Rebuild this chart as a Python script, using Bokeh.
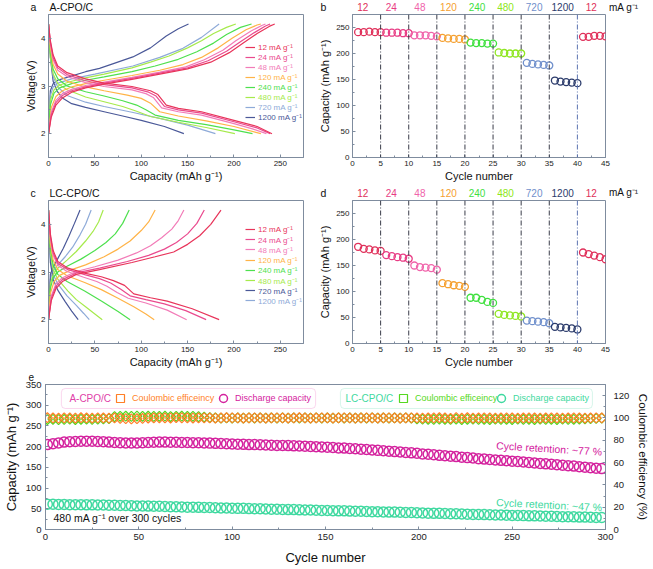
from bokeh.plotting import figure
from bokeh.models import (Range1d, LinearAxis, SingleIntervalTicker, Label, Span, Title,
                          Legend, LegendItem, BoxAnnotation, ColumnDataSource)
from bokeh.layouts import column, row
from bokeh.embed import file_html
from bokeh.resources import INLINE

FONT = "Liberation Sans"
FRAME = "#7f8c9e"

# ---------------- Panel a : A-CPO/C charge/discharge profiles ----------------
a12d_c = [0, 2, 5, 10, 20, 40, 60, 90, 110, 118, 127, 140, 165, 200, 225, 241]
a12d_v = [4.3, 3.95, 3.65, 3.42, 3.28, 3.15, 3.06, 2.99, 2.9, 2.82, 2.6, 2.53, 2.46, 2.28, 2.15, 2.0]
a24d_c = [0, 2, 5, 10, 20, 40, 60, 90, 108, 116, 125, 140, 165, 200, 225, 239]
a24d_v = [4.3, 3.92, 3.6, 3.38, 3.24, 3.11, 3.03, 2.96, 2.87, 2.79, 2.57, 2.5, 2.43, 2.25, 2.12, 2.0]
a48d_c = [0, 2, 5, 10, 20, 40, 60, 90, 105, 113, 122, 140, 165, 200, 220, 235]
a48d_v = [4.3, 3.88, 3.55, 3.33, 3.2, 3.07, 2.99, 2.92, 2.84, 2.76, 2.54, 2.46, 2.39, 2.21, 2.1, 2.0]
a120d_c = [0, 2, 5, 10, 20, 40, 60, 85, 100, 110, 120, 140, 170, 200, 229]
a120d_v = [4.3, 3.8, 3.45, 3.25, 3.1, 2.98, 2.9, 2.81, 2.74, 2.64, 2.46, 2.37, 2.27, 2.15, 2.0]
a240d_c = [0, 2, 5, 10, 20, 40, 60, 80, 95, 105, 115, 140, 170, 200, 220]
a240d_v = [4.3, 3.7, 3.35, 3.15, 3.0, 2.88, 2.79, 2.69, 2.6, 2.5, 2.39, 2.28, 2.19, 2.08, 2.0]
a480d_c = [0, 2, 5, 10, 20, 40, 60, 80, 95, 110, 140, 170, 201]
a480d_v = [4.3, 3.6, 3.25, 3.05, 2.92, 2.77, 2.67, 2.57, 2.47, 2.36, 2.24, 2.13, 2.0]
a720d_c = [0, 2, 5, 10, 20, 40, 60, 90, 120, 150, 180]
a720d_v = [4.3, 3.7, 3.2, 2.98, 2.8, 2.66, 2.57, 2.45, 2.32, 2.18, 2.0]
a1200d_c = [0, 2, 5, 9, 15, 25, 40, 60, 80, 100, 125, 146]
a1200d_v = [4.3, 3.6, 3.1, 2.9, 2.75, 2.63, 2.55, 2.46, 2.37, 2.28, 2.15, 2.0]

a12c_c = [0, 3, 8, 15, 25, 40, 60, 90, 120, 150, 175, 195, 210, 225, 238, 244]
a12c_v = [2.0, 2.35, 2.6, 2.75, 2.87, 2.96, 3.04, 3.14, 3.25, 3.36, 3.5, 3.7, 3.9, 4.1, 4.25, 4.3]
a24c_c = [0, 3, 8, 15, 25, 40, 60, 90, 120, 150, 172, 192, 207, 222, 234, 239]
a24c_v = [2.0, 2.4, 2.65, 2.8, 2.9, 2.98, 3.06, 3.16, 3.27, 3.38, 3.53, 3.73, 3.93, 4.12, 4.26, 4.3]
a48c_c = [0, 3, 8, 15, 25, 40, 60, 90, 120, 148, 168, 188, 202, 218, 230, 234]
a48c_v = [2.0, 2.45, 2.7, 2.84, 2.93, 3.01, 3.08, 3.18, 3.29, 3.4, 3.55, 3.75, 3.95, 4.15, 4.27, 4.3]
a120c_c = [0, 3, 8, 15, 25, 40, 60, 90, 120, 145, 165, 183, 198, 213, 225, 229]
a120c_v = [2.0, 2.55, 2.78, 2.9, 2.98, 3.05, 3.12, 3.22, 3.33, 3.45, 3.6, 3.8, 4.0, 4.18, 4.28, 4.3]
a240c_c = [0, 2, 6, 12, 25, 40, 60, 90, 115, 140, 160, 178, 192, 207, 219]
a240c_v = [2.0, 2.6, 2.85, 2.96, 3.05, 3.12, 3.19, 3.3, 3.42, 3.56, 3.72, 3.9, 4.08, 4.23, 4.3]
a480c_c = [0, 2, 6, 12, 25, 40, 60, 90, 110, 130, 150, 165, 178, 192, 202]
a480c_v = [2.0, 2.7, 2.92, 3.02, 3.1, 3.17, 3.25, 3.38, 3.5, 3.63, 3.8, 3.95, 4.1, 4.23, 4.3]
a720c_c = [0, 2, 5, 10, 25, 50, 91, 120, 145, 165, 184]
a720c_v = [2.0, 2.8, 2.98, 3.06, 3.15, 3.25, 3.42, 3.6, 3.79, 4.02, 4.3]
a1200c_c = [0, 2, 5, 10, 20, 40, 55, 70, 91, 110, 127, 140, 151]
a1200c_v = [2.0, 2.9, 3.05, 3.12, 3.18, 3.3, 3.37, 3.47, 3.61, 3.8, 4.05, 4.2, 4.3]

# ---------------- Panel c : LC-CPO/C charge/discharge profiles ----------------
c12d_c = [0, 2, 5, 10, 21, 40, 57, 70, 82, 92, 110, 128, 155, 184]
c12d_v = [4.3, 3.8, 3.45, 3.22, 3.08, 2.97, 2.9, 2.82, 2.72, 2.54, 2.46, 2.39, 2.23, 2.0]
c24d_c = [0, 2, 5, 10, 21, 40, 55, 67, 78, 88, 105, 125, 148, 170]
c24d_v = [4.3, 3.75, 3.4, 3.18, 3.05, 2.94, 2.86, 2.77, 2.64, 2.5, 2.42, 2.33, 2.19, 2.0]
c48d_c = [0, 2, 5, 10, 20, 38, 52, 63, 74, 86, 105, 128, 149]
c48d_v = [4.3, 3.7, 3.35, 3.14, 3.01, 2.89, 2.8, 2.7, 2.57, 2.45, 2.35, 2.2, 2.0]
c120d_c = [0, 2, 5, 10, 20, 39, 57, 75, 92, 105, 114]
c120d_v = [4.3, 3.6, 3.25, 3.05, 2.92, 2.78, 2.63, 2.45, 2.27, 2.12, 2.0]
c240d_c = [0, 2, 5, 10, 20, 39, 57, 75, 88]
c240d_v = [4.3, 3.5, 3.15, 2.95, 2.8, 2.6, 2.39, 2.17, 2.0]
c480d_c = [0, 2, 5, 10, 21, 30, 40, 50, 58]
c480d_v = [4.3, 3.4, 3.05, 2.85, 2.6, 2.42, 2.27, 2.12, 2.0]
c720d_c = [0, 2, 5, 10, 18, 25, 32]
c720d_v = [4.3, 3.2, 2.85, 2.62, 2.38, 2.18, 2.0]
c1200d_c = [0, 2, 5, 10, 20, 30, 38, 44]
c1200d_v = [4.3, 3.3, 2.95, 2.75, 2.5, 2.3, 2.13, 2.0]

c12c_c = [0, 3, 8, 15, 30, 55, 90, 115, 135, 150, 163, 175, 186]
c12c_v = [2.0, 2.4, 2.65, 2.8, 2.95, 3.05, 3.2, 3.32, 3.42, 3.58, 3.76, 4.0, 4.3]
c24c_c = [0, 3, 8, 15, 30, 55, 85, 108, 125, 138, 150, 160, 168]
c24c_v = [2.0, 2.45, 2.7, 2.84, 2.98, 3.08, 3.22, 3.35, 3.48, 3.62, 3.8, 4.02, 4.3]
c48c_c = [0, 3, 8, 15, 30, 50, 75, 95, 110, 122, 133, 140, 146]
c48c_v = [2.0, 2.5, 2.75, 2.88, 3.01, 3.11, 3.25, 3.4, 3.55, 3.72, 3.9, 4.08, 4.3]
c120c_c = [0, 2, 6, 12, 25, 40, 60, 75, 88, 100, 108, 115]
c120c_v = [2.0, 2.55, 2.8, 2.93, 3.05, 3.15, 3.32, 3.48, 3.65, 3.87, 4.05, 4.3]
c240c_c = [0, 2, 5, 10, 20, 35, 50, 62, 72, 80, 87]
c240c_v = [2.0, 2.65, 2.88, 3.0, 3.12, 3.27, 3.45, 3.62, 3.8, 4.02, 4.3]
c480c_c = [0, 2, 5, 10, 20, 30, 40, 48, 54, 59]
c480c_v = [2.0, 2.75, 2.95, 3.08, 3.25, 3.43, 3.65, 3.85, 4.05, 4.3]
c720c_c = [0, 2, 5, 10, 16, 22, 28, 34]
c720c_v = [2.0, 2.95, 3.1, 3.28, 3.5, 3.75, 4.02, 4.3]
c1200c_c = [0, 2, 5, 10, 18, 26, 34, 40, 46]
c1200c_v = [2.0, 2.85, 3.02, 3.15, 3.32, 3.52, 3.78, 4.0, 4.3]

RATES = ["12", "24", "48", "120", "240", "480", "720", "1200"]
A_COLORS = ["#e8345a", "#ea4a8e", "#f27cb8", "#ffb347", "#4ee04e", "#a6ea4c", "#8eaad8", "#4a5898"]
C_COLORS = ["#e8345a", "#ea4a8e", "#f27cb8", "#ffb347", "#4ee04e", "#a6ea4c", "#4a5898", "#8eaad8"]

# ---------------- Panels b, d : rate capability ----------------
RATE_CYCLES = list(range(1, 46))
B_CAP = [241, 241, 242, 241, 241, 240, 240, 240, 239, 239,
         235, 235, 235, 234, 233, 230, 229, 228, 228, 227,
         221, 220, 220, 219, 219, 202, 201, 200, 200, 200,
         182, 180, 179, 178, 177, 148, 146, 145, 144, 143,
         232, 232, 234, 234, 233]
D_CAP = [186, 182, 181, 179, 178, 170, 168, 166, 165, 163,
         150, 147, 146, 145, 142, 116, 114, 112, 111, 109,
         88, 88, 84, 80, 78, 57, 55, 54, 53, 52,
         44, 43, 42, 41, 39, 32, 31, 30, 29, 27,
         175, 172, 169, 166, 162]
STEP_LABELS = ["12", "24", "48", "120", "240", "480", "720", "1200", "12"]
STEP_COLORS = ["#e0305a", "#e83c84", "#f064aa", "#f5a030", "#3fe03f", "#8ee620", "#7090cc", "#2c3c6c", "#e0305a"]
STEP_BOUNDS = [5, 10, 15, 20, 25, 30, 35, 40]

# ---------------- Panel e : long cycling at 480 mA/g ----------------
E_CYCLES = list(range(1, 301, 3))
A_DIS = [205, 207, 209, 211, 212, 212.5, 213, 213, 213, 212.5,
         212, 211, 210, 209.5, 209, 209, 209, 209.5, 210, 210.5,
         211, 211, 210.5, 210.5, 210, 210, 209.5, 209.5, 209, 208.5,
         208, 207.5, 207, 206.5, 206, 205.5, 205, 205, 204.5, 204,
         203.5, 203, 203, 202.5, 202, 201.5, 201, 200.5, 200, 199,
         198.5, 198, 197, 196.5, 195.5, 195, 194, 193, 192, 191,
         190, 189, 188, 187, 186, 185, 184, 182.5, 181.5, 180.5,
         179, 178, 177, 176, 174.5, 173.5, 172.5, 171, 170, 169,
         168, 167, 166, 165, 164, 163, 162, 160.5, 159.5, 158.5,
         157.5, 156.5, 155, 154, 153, 151.5, 150.5, 149, 148, 147]
LC_DIS = [61, 61, 60.5, 60.5, 60, 60, 60, 59.5, 59.5, 59,
          59, 58.5, 58.5, 58, 58, 57.5, 57, 57, 56.5, 56,
          56, 55.5, 55, 55, 54.5, 54, 54, 53.5, 53, 53,
          52.5, 52, 52, 51.5, 51, 51, 50.5, 50, 50, 49.5,
          49, 49, 48.5, 48, 48, 47.5, 47, 47, 46.5, 46,
          46, 45.5, 45, 45, 44.5, 44, 44, 43.5, 43, 43,
          42.5, 42, 42, 41.5, 41, 41, 40.5, 40, 39.5, 39,
          39, 38.5, 38, 38, 37.5, 37, 36.5, 36.5, 36, 35.5,
          35, 35, 34.5, 34, 34, 33.5, 33, 33, 32.5, 32,
          32, 31.5, 31, 31, 30.5, 30, 30, 29.5, 29, 29]
A_CE = [100.2, 100.0, 99.8, 100.1, 100.0, 99.9, 100.2, 100.0, 99.9, 100.1,
        100.0, 99.8, 100.0, 99.6, 99.4, 99.2, 99.3, 99.6, 99.9, 100.0,
        100.1, 100.0, 99.9, 100.2, 100.1, 100.0, 99.9, 100.0, 100.1, 100.0,
        99.9, 100.0, 100.2, 100.1, 100.0, 99.9, 100.0, 100.1, 100.0, 99.9,
        100.0, 100.1, 100.0, 99.9, 100.0, 100.2, 100.0, 99.9, 100.0, 100.1,
        100.0, 99.9, 100.0, 100.1, 100.0, 99.8, 100.0, 100.1, 100.0, 99.9,
        100.0, 100.1, 100.0, 99.9, 100.0, 100.1, 100.0, 99.9, 100.0, 100.1,
        100.2, 100.0, 99.7, 100.3, 99.8, 100.2, 99.9, 100.0, 100.1, 100.0,
        99.9, 100.0, 100.1, 100.0, 99.9, 100.0, 100.1, 100.0, 99.9, 100.0,
        100.1, 100.0, 99.9, 100.0, 100.1, 100.0, 99.9, 100.0, 100.1, 100.0]
LC_CE = [98.6, 98.8, 98.5, 98.7, 98.9, 98.6, 98.8, 99.0, 98.7, 98.9,
         99.2, 99.5, 101.2, 101.5, 101.6, 101.4, 101.7, 101.5, 101.6, 101.4,
         101.5, 101.6, 101.3, 101.5, 101.6, 101.4, 101.5, 101.2, 100.8, 100.4,
         100.0, 99.8, 100.1, 99.9, 100.0, 99.8, 100.1, 99.9, 100.0, 99.8,
         100.0, 99.9, 100.1, 99.8, 100.0, 99.9, 100.0, 99.8, 100.1, 99.9,
         100.0, 99.8, 100.1, 99.9, 100.0, 99.8, 100.0, 99.9, 100.1, 99.8,
         100.0, 99.9, 100.0, 99.8, 100.1, 99.9, 99.2, 98.9, 98.8, 98.7,
         98.9, 98.8, 98.7, 98.9, 98.6, 98.8, 98.9, 98.7, 98.8, 98.6,
         98.9, 98.7, 98.8, 98.6, 98.9, 98.7, 98.8, 98.6, 98.9, 98.7,
         98.8, 98.6, 98.9, 98.7, 98.8, 99.0, 99.2, 99.4, 99.6, 99.8]

ORANGE = "#ff7f27"
MAGENTA = "#d4229e"
GREEN = "#55d820"
TEAL = "#3fd9a0"

# layout geometry (pixels)
W_A, W_B = 316, 336
A_BL, A_BR, A_FW = 48, 13, 255
B_BL, B_BR, B_FW = 32, 47, 257
E_W, E_BL, E_BR, E_FW = 652, 44, 46, 562


def base_fig(w, h, xr, yr, bl, br, bt, bb):
    p = figure(width=w, height=h, x_range=Range1d(*xr), y_range=Range1d(*yr),
               output_backend="svg", toolbar_location=None,
               min_border_left=bl, min_border_right=br,
               min_border_top=bt, min_border_bottom=bb)
    p.xgrid.visible = False
    p.ygrid.visible = False
    p.outline_line_color = FRAME
    p.outline_line_width = 1
    return p


def header_fig(w, h, bl, fw, xr):
    """Thin strip without axes whose x scale lines up with the panel below."""
    upp = (xr[1] - xr[0]) / fw
    p = figure(width=w, height=h,
               x_range=Range1d(xr[0] - bl * upp, xr[0] + (w - bl) * upp),
               y_range=Range1d(0, h), x_axis_type=None, y_axis_type=None,
               output_backend="svg", toolbar_location=None,
               min_border_left=0, min_border_right=0,
               min_border_top=0, min_border_bottom=0)
    p.outline_line_color = None
    return p


def style_axis(ax, tick_size, label_size, interval, minor=2, lstand=3, astand=1):
    ax.ticker = SingleIntervalTicker(interval=interval, num_minor_ticks=minor)
    ax.axis_line_color = FRAME
    ax.major_tick_line_color = FRAME
    ax.minor_tick_line_color = FRAME
    ax.major_tick_in = 3
    ax.major_tick_out = 0
    ax.minor_tick_in = 2
    ax.minor_tick_out = 0
    ax.major_label_text_font = FONT
    ax.major_label_text_font_size = f"{tick_size}px"
    ax.major_label_text_color = "#222222"
    ax.axis_label_text_font = FONT
    ax.axis_label_text_font_size = f"{label_size}px"
    ax.axis_label_text_font_style = "normal"
    ax.axis_label_text_color = "#111111"
    ax.major_label_standoff = lstand
    ax.axis_label_standoff = astand


def label(p, x, y, text, size, color="#111111", align="left", angle=0.0):
    p.add_layout(Label(x=x, y=y, text=text, text_font=FONT,
                       text_font_size=f"{size}px", text_color=color,
                       text_align=align, text_baseline="middle", angle=angle))


def single_legend(p, renderer, text, color, loc, size, gw, gh, standoff=3):
    lg = Legend(items=[LegendItem(label=text, renderers=[renderer])],
                location=loc, orientation="vertical",
                label_text_color=color, label_text_font=FONT,
                label_text_font_size=f"{size}px",
                glyph_width=gw, glyph_height=gh, label_height=gh,
                label_standoff=standoff, padding=0, margin=0, spacing=0,
                border_line_alpha=0, background_fill_alpha=0)
    p.add_layout(lg)


def profile_panel(curves, colors, h, bt, bb, leg_b0, leg_step, leg_x):
    p = base_fig(W_A, h, (0, 275), (1.5, 4.5), A_BL, A_BR, bt, bb)
    style_axis(p.xaxis[0], 8, 11, 50)
    style_axis(p.yaxis[0], 8, 11, 1)
    p.xaxis.axis_label = "Capacity (mAh g\u207b\u00b9)"
    p.yaxis.axis_label = "Voltage(V)"
    rends = {}
    for i in reversed(range(len(curves))):
        dc, dv, cc, cv = curves[i]
        p.line(dc, dv, line_color=colors[i], line_width=1.2)
        rends[i] = p.line(cc, cv, line_color=colors[i], line_width=1.2)
    for i, rate in enumerate(RATES):
        single_legend(p, rends[i], f"{rate} mA g\u207b\u00b9", colors[i],
                      (leg_x, leg_b0 - leg_step * i), 8, 10, 10)
    return p


def rate_panel(caps, h, bt, bb):
    p = base_fig(W_B, h, (0, 45), (0, 275), B_BL, B_BR, bt, bb)
    style_axis(p.xaxis[0], 8, 11, 5)
    style_axis(p.yaxis[0], 8, 11, 50, astand=2)
    p.xaxis.axis_label = "Cycle number"
    p.yaxis.axis_label = "Capacity (mAh g\u207b\u00b9)"
    for xb in STEP_BOUNDS:
        col = "#5a72b0" if xb == 40 else "#3a3d4a"
        p.add_layout(Span(location=xb, dimension="height", line_color=col,
                          line_width=1, line_dash="5 2 1 2"))
    cols = [STEP_COLORS[(c - 1) // 5] for c in RATE_CYCLES]
    src = ColumnDataSource(dict(x=RATE_CYCLES, y=caps, c=cols))
    p.scatter("x", "y", source=src, marker="circle", size=7, fill_color=None,
              line_color="c", line_width=1.3)
    return p


def rate_header(h, y, letter, letter_y):
    p = header_fig(W_B, h, B_BL, B_FW, (0, 45))
    for k, (t, col) in enumerate(zip(STEP_LABELS, STEP_COLORS)):
        label(p, 2.5 + 5 * k, y, t, 10, col, "center")
    label(p, 45.6, y, "mA g\u207b\u00b9", 10, "#111111", "left")
    label(p, -4.9, letter_y, letter, 10.5)
    return p


A_CURVES = [(a12d_c, a12d_v, a12c_c, a12c_v), (a24d_c, a24d_v, a24c_c, a24c_v),
            (a48d_c, a48d_v, a48c_c, a48c_v), (a120d_c, a120d_v, a120c_c, a120c_v),
            (a240d_c, a240d_v, a240c_c, a240c_v), (a480d_c, a480d_v, a480c_c, a480c_v),
            (a720d_c, a720d_v, a720c_c, a720c_v), (a1200d_c, a1200d_v, a1200c_c, a1200c_v)]
C_CURVES = [(c12d_c, c12d_v, c12c_c, c12c_v), (c24d_c, c24d_v, c24c_c, c24c_v),
            (c48d_c, c48d_v, c48c_c, c48c_v), (c120d_c, c120d_v, c120c_c, c120c_v),
            (c240d_c, c240d_v, c240c_c, c240c_v), (c480d_c, c480d_v, c480c_c, c480c_v),
            (c720d_c, c720d_v, c720c_c, c720c_v), (c1200d_c, c1200d_v, c1200c_c, c1200c_v)]

# ---- row 1 : header + panels a, b ----
ha = header_fig(W_A, 13, A_BL, A_FW, (0, 275))
label(ha, 1, 6.5, "A-CPO/C", 10.5)
label(ha, -19.5, 6.5, "a", 10.5)
hb = rate_header(13, 6.5, "b", 6.5)
pa = profile_panel(A_CURVES, A_COLORS, 172, 1, 28, 105, 10, 197)
pb = rate_panel(B_CAP, 172, 1, 28)

# ---- row 2 : header + panels c, d ----
hc = header_fig(W_A, 14, A_BL, A_FW, (0, 275))
label(hc, 1, 7, "LC-CPO/C", 10.5)
label(hc, -19.5, 6.5, "c", 10.5)
hd = rate_header(14, 7, "d", 6.5)
pc = profile_panel(C_CURVES, C_COLORS, 171, 1, 25, 108.7, 10.24, 197)
pd = rate_panel(D_CAP, 171, 1, 25)

# ---- row 3 : panel e ----
pe = base_fig(E_W, 198, (0, 300), (0, 350), E_BL, E_BR, 14, 39)
pe.extra_y_ranges = {"ce": Range1d(0, 130)}
pe.add_layout(Title(text="e", align="left", offset=-17, standoff=3,
                    vertical_align="top",
                    text_font=FONT, text_font_size="10px",
                    text_font_style="normal", text_color="#111111"), "above")
style_axis(pe.xaxis[0], 9.5, 13, 50, lstand=4, astand=7)
style_axis(pe.yaxis[0], 9.5, 13, 50, lstand=4, astand=4)
pe.xaxis.axis_label = "Cycle number"
pe.yaxis.axis_label = "Capacity (mAh g\u207b\u00b9)"
ax_r = LinearAxis(y_range_name="ce", axis_label="Coulombic efficiency (%)")
style_axis(ax_r, 9.5, 11.5, 20, lstand=8, astand=5)
pe.add_layout(ax_r, "right")

r_lcce = pe.scatter(E_CYCLES, LC_CE, marker="square", angle=0.785, size=7,
                    fill_color=None, line_color=GREEN, line_width=1.2, y_range_name="ce")
r_ace = pe.scatter(E_CYCLES, A_CE, marker="square", angle=0.785, size=7,
                   fill_color=None, line_color=ORANGE, line_width=1.2, y_range_name="ce")
r_adis = pe.scatter(E_CYCLES, A_DIS, marker="circle", size=10, fill_color=None,
                    line_color=MAGENTA, line_width=1.5)
r_lcdis = pe.scatter(E_CYCLES, LC_DIS, marker="circle", size=10, fill_color=None,
                     line_color=TEAL, line_width=1.5)

pe.add_layout(BoxAnnotation(left=8.5, right=144.7, bottom=292.1, top=340.4,
                            fill_alpha=0, line_color="#f07cc8", line_width=1,
                            border_radius=4))
pe.add_layout(BoxAnnotation(left=158.0, right=293.0, bottom=292.1, top=340.4,
                            fill_alpha=0, line_color="#7ee2bc", line_width=1,
                            border_radius=4))
label(pe, 12.8, 316.2, "A-CPO/C", 10, "#e040a8")
label(pe, 160.7, 316.2, "LC-CPO/C", 10, TEAL)
single_legend(pe, r_ace, "Coulombic efficeincy", ORANGE, (65, 121), 9, 20, 20, 2)
single_legend(pe, r_adis, "Discharge capacity", MAGENTA, (168, 121), 9, 20, 20, 2)
single_legend(pe, r_lcce, "Coulombic efficeincy", GREEN, (348, 121), 9, 20, 20, 2)
single_legend(pe, r_lcdis, "Discharge capacity", TEAL, (446, 121), 9, 20, 20, 2)

label(pe, 4.3, 26.6, "480 mA g\u207b\u00b9 over 300 cycles", 10.5)
label(pe, 269.8, 195.6, "Cycle retention: ~77 %", 10.5, MAGENTA, "center", -0.06)
label(pe, 269.8, 60.0, "Cycle retention: ~47 %", 10.5, TEAL, "center", -0.05)

layout = column(row(ha, hb), row(pa, pb), row(hc, hd), row(pc, pd), pe)
open("out.html", "w").write(file_html(layout, INLINE))
